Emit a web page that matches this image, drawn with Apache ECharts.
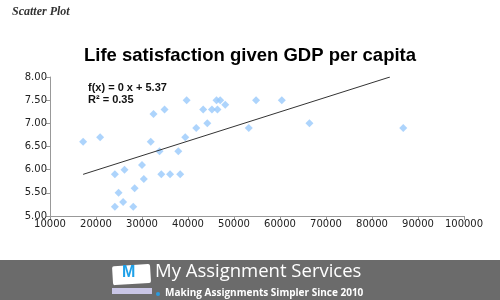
<!DOCTYPE html>
<html>
<head>
<meta charset="utf-8">
<script src="https://cdn.jsdelivr.net/npm/echarts@6/dist/echarts.min.js"></script>
<style>
  html, body { margin: 0; padding: 0; background: #fff; }
  #chart { width: 500px; height: 300px; }
</style>
</head>
<body>
<div id="chart"></div>
<script>
// GDP per capita (x) and life satisfaction (y)
var gdp = [17200, 20900, 24100, 24900, 24100, 25900, 26200, 28400, 28100, 30000,
           30400, 31900, 32500, 33800, 34200, 34900, 36100, 37900, 38300, 39400,
           39700, 41800, 43300, 44200, 45200, 46200, 46400, 47000, 48100, 53200,
           54800, 60400, 66400, 86800];
var satisfaction = [6.6, 6.7, 5.9, 5.5, 5.2, 5.3, 6.0, 5.6, 5.2, 6.1,
                    5.8, 6.6, 7.2, 6.4, 5.9, 7.3, 5.9, 6.4, 5.9, 6.7,
                    7.5, 6.9, 7.3, 7.0, 7.3, 7.5, 7.3, 7.5, 7.4, 6.9,
                    7.5, 7.5, 7.0, 6.9];
// trend line as drawn in the source: f(x) = 0.0000315 x + 5.357, from x=17200 to x=83900
var trendSlope = 0.0000315;
var trendIntercept = 5.357;
var trendRange = [17200, 83900];
var xTicks = [10000, 100000, 10000]; // min, max, step
var yTicks = [5, 8, 0.5];

var points = gdp.map(function (x, i) { return [x, satisfaction[i]]; });
var trend = trendRange.map(function (x) { return [x, trendIntercept + trendSlope * x]; });

var myChart = echarts.init(document.getElementById('chart'));
myChart.setOption({
    animation: false,
    title: {
        text: 'Life satisfaction given GDP per capita',
        left: 'center',
        top: 41,
        textStyle: { fontFamily: 'Liberation Sans', fontSize: 18.5, fontWeight: 'bold', color: '#000' }
    },
    grid: { left: 50, right: 36, top: 77, bottom: 84 },
    xAxis: {
        type: 'value',
        min: xTicks[0], max: xTicks[1], interval: xTicks[2],
        axisLine: { lineStyle: { color: '#999' } },
        axisTick: { show: true, length: 4, lineStyle: { color: '#999' } },
        axisLabel: {
            fontFamily: 'DejaVu Sans', fontSize: 10, color: '#222', margin: 3,
            formatter: function (v) { return String(v); }
        },
        splitLine: { show: false }
    },
    yAxis: {
        type: 'value',
        min: yTicks[0], max: yTicks[1], interval: yTicks[2],
        axisLine: { show: true, lineStyle: { color: '#999' } },
        axisTick: { show: true, length: 4, lineStyle: { color: '#999' } },
        axisLabel: {
            fontFamily: 'DejaVu Sans', fontSize: 10, color: '#222', margin: 3,
            formatter: function (v) { return v.toFixed(2); }
        },
        splitLine: { show: false }
    },
    series: [
        {
            type: 'scatter',
            data: points,
            symbol: 'diamond',
            symbolSize: 8,
            itemStyle: { color: '#99c9fb' }
        },
        {
            type: 'line',
            data: trend,
            symbol: 'none',
            lineStyle: { color: '#333', width: 1 }
        }
    ],
    graphic: [
        {
            type: 'text', left: 12, top: 6,
            style: { text: 'Scatter Plot', font: 'italic bold 12px "Liberation Serif"', fill: '#333' }
        },
        {
            type: 'text', left: 88, top: 82,
            style: { text: 'f(x) = 0 x + 5.37\nR² = 0.35', font: 'bold 11px "Liberation Sans"', fill: '#111', lineHeight: 12 }
        },
        // footer banner
        {
            type: 'rect', left: 0, top: 260,
            shape: { width: 500, height: 40 },
            style: { fill: '#6b6b6b' }
        },
        {
            type: 'rect', left: 112, top: 264, rotation: 0.06,
            shape: { width: 38, height: 19, r: 2 },
            style: { fill: '#fff' }
        },
        {
            type: 'text', left: 122, top: 265,
            style: { text: 'M', font: 'bold 16px "Liberation Sans"', fill: '#1ea0e8' }
        },
        {
            type: 'rect', left: 112, top: 288,
            shape: { width: 40, height: 6 },
            style: { fill: '#c9c6e6' }
        },
        {
            type: 'circle', left: 156, top: 292,
            shape: { r: 2 },
            style: { fill: '#2a9be0' }
        },
        {
            type: 'text', left: 155, top: 262,
            style: { text: 'My Assignment Services', font: '18.5px "Open Sans"', fill: '#fff' }
        },
        {
            type: 'text', left: 165, top: 288,
            style: { text: 'Making Assignments Simpler Since 2010', font: 'bold 10px "Open Sans"', fill: '#fff' }
        }
    ]
});
</script>
</body>
</html>
